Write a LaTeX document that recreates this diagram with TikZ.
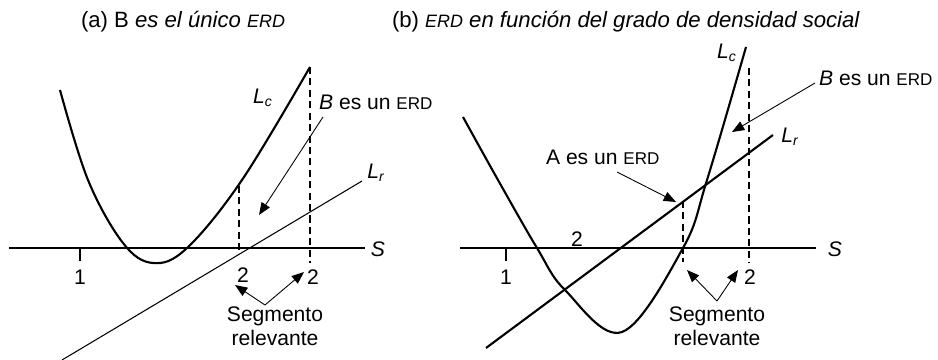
\documentclass[tikz,border=0pt]{standalone}
\usepackage{fontspec}
\setmainfont{Liberation Sans}
\usetikzlibrary{arrows.meta,positioning}
\newcommand{\erd}[1][9.7]{{\fontsize{#1}{10}\selectfont ERD}}
\tikzset{
  curve/.style={line width=1.2pt,line join=round},
  straight/.style={line width=0.6pt},
  guide/.style={line width=0.7pt,dash pattern=on 4pt off 2.5pt},
  pointer/.style={line width=0.5pt,-{Triangle[length=7pt,width=5.5pt]}},
  lbl/.style={font=\fontsize{12}{13.5}\selectfont,inner sep=1pt},
  title/.style={font=\fontsize{12.6}{14}\selectfont,inner sep=1pt}
}
\begin{document}
\begin{tikzpicture}[x=0.2mm,y=-0.2mm]
  \useasboundingbox (0,0) rectangle (938,360);
  % (a)
  \begin{scope}
    \node[title] (titleA) at (183,22) {(a) B \textit{es el único \erd[10.2]}};
    \coordinate (axA0) at (9,248);
    \coordinate (axA1) at (365,248);
    \draw[straight] (axA0) -- (axA1);
    \node[lbl] (sA) at (378,249) {\textit{S}};
    \draw[straight] (80,248) -- (80,261);
    \node[lbl] (oneA) at (80,277) {1};
    \draw[curve] plot[smooth,tension=0.6] coordinates
      {(60,90) (88,180) (123,243) (153,263) (187,248) (242,180) (310,67)};
    \node[lbl] (lcA) at (263,98) {\textit{L\textsubscript{c}}};
    \coordinate (lrA0) at (62,360);
    \coordinate (lrA1) at (362,181);
    \draw[straight] (lrA0) -- (lrA1);
    \node[lbl] (lrA) at (376,173) {\textit{L\textsubscript{r}}};
    \draw[guide] (239,186) -- (239,250);
    \draw[guide] (310,67) -- (310,263);
    \node[lbl] (twoA1) at (243,275) {2};
    \node[lbl] (twoA2) at (313,277) {2};
    \node[lbl,anchor=west] (ergA) at (317,102) {\textit{B} es un \erd};
    \coordinate (ergA0) at (323,117);
    \coordinate (ergA1) at (259,215);
    \draw[pointer] (ergA0) -- (ergA1);
    \node[lbl,align=center] (segA) at (275,326) {Segmento\\relevante};
    \coordinate (segA0) at (265,305);
    \coordinate (segA1) at (235,285);
    \coordinate (segA2) at (304,272);
    \draw[pointer] (segA0) -- (segA1);
    \draw[pointer] (segA0) -- (segA2);
  \end{scope}
  % (b)
  \begin{scope}
    \node[title] (titleB) at (626,22) {(b) \textit{\erd[10.2]{} en función del grado de densidad social}};
    \coordinate (axB0) at (460,248);
    \coordinate (axB1) at (816,248);
    \draw[straight] (axB0) -- (axB1);
    \node[lbl] (sB) at (835,249) {\textit{S}};
    \draw[straight] (506,248) -- (506,261);
    \node[lbl] (oneB) at (506,277) {1};
    \node[lbl] (twoB0) at (577,239) {2};
    \draw[curve] plot[smooth,tension=0.6] coordinates
      {(463,117) (498,180) (537,248) (565,290) (622,332) (683,248) (707,180) (746,47)};
    \node[lbl] (lcB) at (727,53) {\textit{L\textsubscript{c}}};
    \coordinate (lrB0) at (486,348);
    \coordinate (lrB1) at (773,135);
    \draw[curve] (lrB0) -- (lrB1);
    \node[lbl] (lrB) at (790,137) {\textit{L\textsubscript{r}}};
    \draw[guide] (683,201) -- (683,262);
    \draw[guide] (749,68) -- (749,263);
    \node[lbl] (twoB) at (750,277) {2};
    \node[lbl,anchor=west] (ergB) at (817,78) {\textit{B} es un \erd};
    \coordinate (ergB0) at (815,83);
    \coordinate (ergB1) at (732,132);
    \draw[pointer] (ergB0) -- (ergB1);
    \node[lbl,anchor=west] (erdAB) at (544,157) {A es un \erd};
    \coordinate (erdAB0) at (617,172);
    \coordinate (erdAB1) at (676,202);
    \draw[pointer] (erdAB0) -- (erdAB1);
    \node[lbl,align=center] (segB) at (717,326) {Segmento\\relevante};
    \coordinate (segB0) at (717,301);
    \coordinate (segB1) at (687,270);
    \coordinate (segB2) at (738,270);
    \draw[pointer] (segB0) -- (segB1);
    \draw[pointer] (segB0) -- (segB2);
  \end{scope}
\end{tikzpicture}
\end{document}
